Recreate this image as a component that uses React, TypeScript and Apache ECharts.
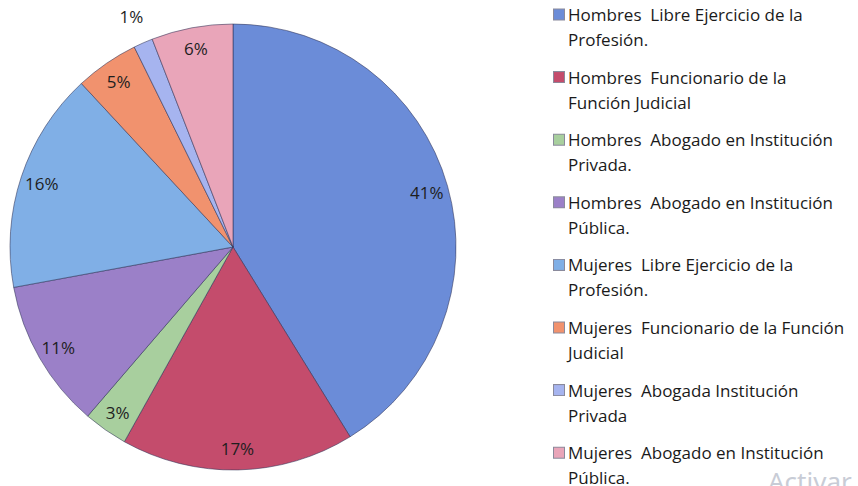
import React, { useEffect, useRef } from "react";
import * as echarts from "echarts";

const categories = [
  "Hombres  Libre Ejercicio de la Profesión.",
  "Hombres  Funcionario de la Función Judicial",
  "Hombres  Abogado en Institución Privada.",
  "Hombres  Abogado en Institución Pública.",
  "Mujeres  Libre Ejercicio de la Profesión.",
  "Mujeres  Funcionario de la Función Judicial",
  "Mujeres  Abogada Institución Privada",
  "Mujeres  Abogado en Institución Pública.",
];
const legendLine1 = [
  "Hombres  Libre Ejercicio de la",
  "Hombres  Funcionario de la",
  "Hombres  Abogado en Institución",
  "Hombres  Abogado en Institución",
  "Mujeres  Libre Ejercicio de la",
  "Mujeres  Funcionario de la Función",
  "Mujeres  Abogada Institución",
  "Mujeres  Abogado en Institución",
];
const legendLine2 = [
  "Profesión.",
  "Función Judicial",
  "Privada.",
  "Pública.",
  "Profesión.",
  "Judicial",
  "Privada",
  "Pública.",
];
const values = [41.2, 16.9, 3.2, 10.8, 16.0, 4.6, 1.4, 5.9];
const colors = [
  "#6b8cd8",
  "#c44c6c",
  "#a8cf9e",
  "#9b80c8",
  "#80afe6",
  "#f1926e",
  "#a6b4ef",
  "#e9a5b9",
];

const FONT = "'Open Sans', 'Liberation Sans', sans-serif";

export default function App() {
  const ref = useRef<HTMLDivElement>(null);
  useEffect(() => {
    if (!ref.current) return;
    const chart = echarts.init(ref.current, undefined, { renderer: "svg" });
    const center = [233, 247];
    const R = 223;
    const mainData = categories.map((name, i) => ({
      name,
      value: values[i],
      itemStyle: { color: colors[i] },
    }));
    const rich: Record<string, any> = {
      t: { fontSize: 17, fontFamily: FONT, color: "#1a1a1a", lineHeight: 25, padding: [0, 0, 0, 4] },
      t2: { fontSize: 17, fontFamily: FONT, color: "#1a1a1a", lineHeight: 25, padding: [0, 0, 0, 14] },
    };
    colors.forEach((c, i) => {
      rich["m" + i] = {
        width: 10,
        height: 10,
        backgroundColor: c,
        borderColor: "rgba(60,60,90,0.6)",
        borderWidth: 1,
        lineHeight: 25,
      };
    });
    chart.setOption({
      animation: false,
      backgroundColor: "#ffffff",
      legend: {
        orient: "vertical",
        left: 544,
        top: -3,
        height: 560,
        icon: "none",
        itemWidth: 0,
        itemHeight: 0,
        itemGap: 12.6,
        selectedMode: false,
        data: categories,
        formatter: (name: string) => {
          const i = categories.indexOf(name);
          return `{m${i}|}{t|${legendLine1[i]}}\n{t2|${legendLine2[i]}}`;
        },
        textStyle: { rich, lineHeight: 25 },
      },
      graphic: [
        {
          type: "text",
          left: 768,
          top: 468,
          style: {
            text: "Activar",
            fontSize: 26,
            fontFamily: "'Noto Sans', sans-serif",
            fill: "#c8ccd6",
          },
        },
      ],
      series: [
        {
          type: "pie",
          center,
          radius: [0, R],
          startAngle: 90,
          clockwise: true,
          silent: true,
          percentPrecision: 0,
          data: mainData,
          label: { show: false },
          labelLine: { show: false },
          itemStyle: { borderColor: "rgba(45,50,85,0.55)", borderWidth: 1 },
          emphasis: { disabled: true },
        },
        {
          type: "pie",
          center,
          radius: [174, R],
          startAngle: 90,
          clockwise: true,
          silent: true,
          percentPrecision: 0,
          avoidLabelOverlap: false,
          data: categories.map((name, i) => ({
            name,
            value: values[i],
            label: { show: i !== 6 },
          })),
          itemStyle: { color: "rgba(0,0,0,0)", borderWidth: 0 },
          label: {
            position: "inside",
            formatter: "{d}%",
            fontSize: 17,
            fontFamily: FONT,
            color: "#1e1e1e",
          },
          labelLine: { show: false },
          emphasis: { disabled: true },
        },
        {
          type: "pie",
          center,
          radius: [232, 266],
          startAngle: 90,
          clockwise: true,
          silent: true,
          percentPrecision: 0,
          avoidLabelOverlap: false,
          data: categories.map((name, i) => ({
            name,
            value: values[i],
            label: { show: i === 6 },
          })),
          itemStyle: { color: "rgba(0,0,0,0)", borderWidth: 0 },
          label: {
            position: "inside",
            formatter: "{d}%",
            fontSize: 17,
            fontFamily: FONT,
            color: "#1e1e1e",
          },
          labelLine: { show: false },
          emphasis: { disabled: true },
        },
      ],
    });
    return () => chart.dispose();
  }, []);
  return (
    <div
      ref={ref}
      style={{ position: "fixed", left: 0, top: 0, width: 858, height: 486 }}
    />
  );
}
